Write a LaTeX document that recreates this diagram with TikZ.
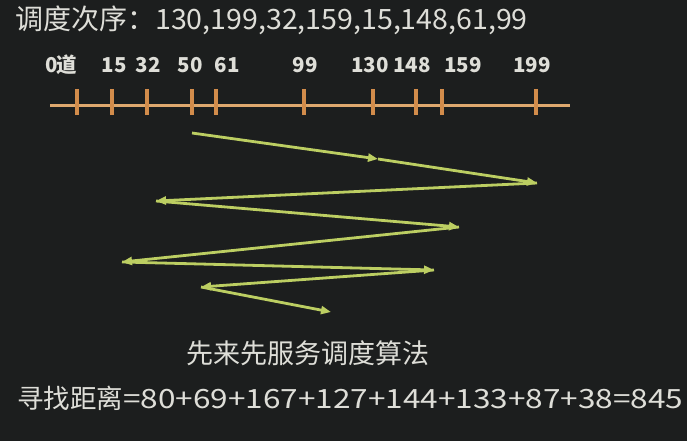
\documentclass[tikz,border=0pt]{standalone}
\usepackage{fontspec}
\usepackage{graphicx}
\setmainfont{Noto Sans CJK SC}
\usetikzlibrary{arrows.meta}
\definecolor{bg}{RGB}{28,30,30}
\definecolor{txt}{RGB}{222,222,216}
\definecolor{axis}{RGB}{210,140,75}
\definecolor{axisl}{RGB}{222,168,110}
\definecolor{arr}{RGB}{188,206,98}
\tikzset{
  title/.style={anchor=west, text=txt, font=\fontsize{28}{30}\selectfont, inner sep=0pt},
  lab/.style={text=txt, font=\fontsize{20.5}{22}\selectfont\bfseries, inner sep=0pt},
  tick/.style={draw=axis, line width=3.6pt},
  axisline/.style={draw=axisl, line width=3pt},
  zz/.style={draw=arr, line width=2.8pt, -{Triangle[length=10pt,width=8pt]}},
}
\begin{document}
\begin{tikzpicture}[x=1pt,y=-1pt]
\fill[bg] (0,0) rectangle (687,441);
\useasboundingbox (0,0) rectangle (687,441);
\node[title] (t) at (15,20) {调度次序：\scalebox{1.02}[1]{130,199,32,159,15,148,61,99}};
% axis
\coordinate (a0) at (50,106);
\coordinate (a1) at (570,106);
\draw[axisline] (a0) -- (a1);
\foreach \n/\x/\lx/\txt in {t0/77/61/0\kern-1pt 道, t15/112/114/15, t32/147/148/32, t50/192/190/50, t61/216/227/61, t99/304/305/99, t130/373/370/130, t148/416/412/148, t159/442/463/159, t199/536/532/199}{
  \coordinate (\n a) at (\x,89);
  \coordinate (\n b) at (\x,115);
  \draw[tick] (\n a) -- (\n b);
  \node[lab] (\n l) at (\lx,65) {\txt};
}
% zigzag
\coordinate (p0) at (192,133);
\coordinate (p1) at (378,159);
\coordinate (p2) at (537,183);
\coordinate (p3) at (156,201);
\coordinate (p4) at (459,227);
\coordinate (p5) at (122,262);
\coordinate (p6) at (434,270);
\coordinate (p7) at (201,287);
\coordinate (p8) at (331,312);
\draw[zz] (p0) -- (p1);
\draw[zz] (p1) -- (p2);
\draw[zz] (p2) -- (p3);
\draw[zz] (p3) -- (p4);
\draw[zz] (p4) -- (p5);
\draw[zz] (p5) -- (p6);
\draw[zz] (p6) -- (p7);
\draw[zz] (p7) -- (p8);
\node[title, anchor=center, font=\fontsize{27}{30}\selectfont] (n1) at (308,353) {先来先服务调度算法};
\node[title, anchor=west, font=\fontsize{26.5}{30}\selectfont] (n2) at (17,398) {寻找距离\scalebox{1.19}[1]{=80+69+167+127+144+133+87+38=845}};
\end{tikzpicture}
\end{document}
